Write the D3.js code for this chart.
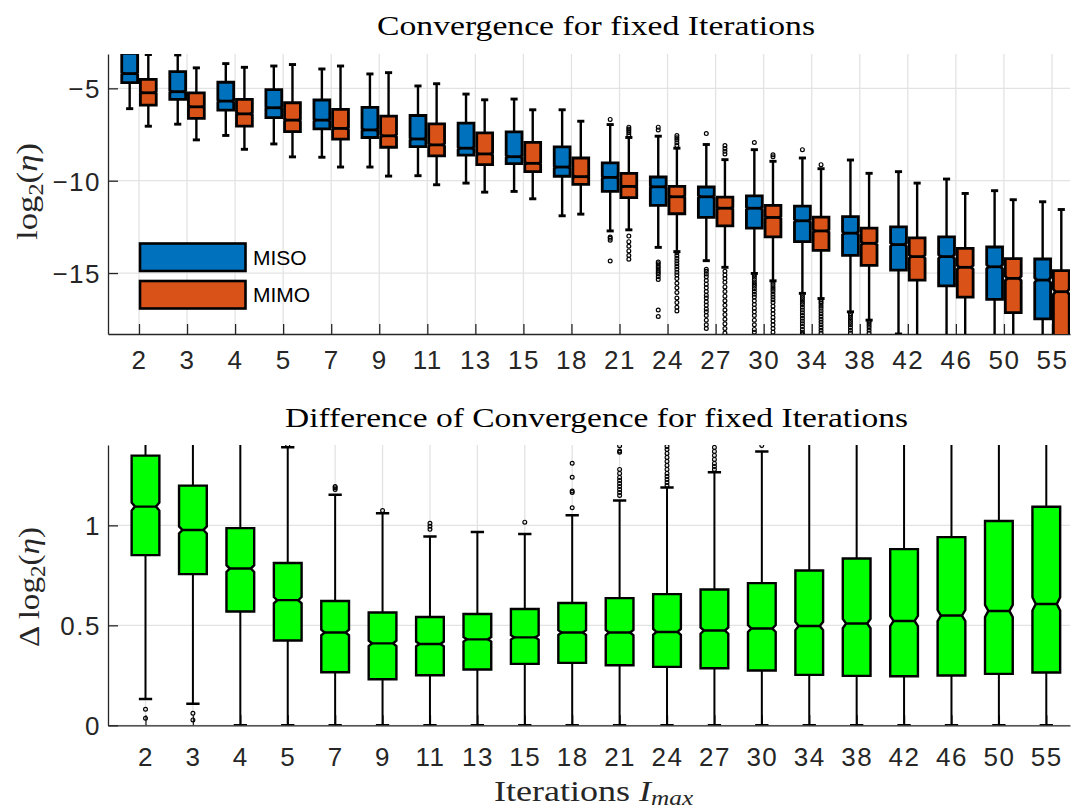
<!DOCTYPE html>
<html><head><meta charset="utf-8">
<script src="https://cdn.jsdelivr.net/npm/d3@7"></script>
<style>body{margin:0;background:#fff}</style>
</head><body><svg id="c" width="1071" height="810"></svg>
<script>
// ---------------- DATA ----------------
const categories = ["2","3","4","5","7","9","11","13","15","18","21","24","27","30","34","38","42","46","50","55"];
const seriesNames = ["MISO","MIMO"];

// top panel: log2(eta)
const misoWhiskerHigh = [-2.50,-3.19,-3.66,-3.79,-3.95,-4.22,-4.87,-5.31,-5.58,-6.16,-6.96,-7.59,-8.04,-8.32,-8.77,-8.88,-9.51,-9.91,-10.54,-11.14];
const misoQ3          = [-3.10,-4.09,-4.67,-5.07,-5.63,-6.03,-6.47,-6.88,-7.36,-8.17,-9.04,-9.80,-10.34,-10.82,-11.38,-11.94,-12.50,-13.04,-13.59,-14.24];
const misoMedian      = [-4.20,-5.18,-5.69,-6.05,-6.72,-7.25,-7.74,-8.24,-8.70,-9.26,-9.82,-10.33,-10.87,-11.49,-12.17,-12.84,-13.46,-14.11,-14.66,-15.38];
const misoQ1          = [-4.69,-5.60,-6.18,-6.58,-7.19,-7.66,-8.15,-8.61,-9.08,-9.76,-10.58,-11.34,-11.99,-12.57,-13.30,-14.04,-14.84,-15.69,-16.43,-17.48];
const misoWhiskerLow  = [-6.10,-6.94,-7.55,-8.01,-8.73,-9.26,-9.73,-10.13,-10.58,-11.90,-12.72,-13.61,-14.33,-15.02,-16.10,-17.10,-18.30,-19.50,-19.50,-19.50];
const misoOutliers = [[],[],[],[],[],[],[],[],[],[],
  [-6.68,-13.05,-13.12,-13.22,-14.35],
  [-7.10,-7.25,-14.40,-14.50,-14.62,-14.72,-14.85,-14.95,-15.05,-15.20,-15.35,-17.00,-17.35],
  [-7.45,-14.80,-14.90,-15.05,-15.20,-15.40,-15.60,-15.80,-16.00,-16.20,-16.35,-16.55,-16.75,-16.95,-17.10,-17.30,-17.55,-17.80,-18.00],
  [-7.93,-15.10,-15.22,-15.35,-15.48,-15.60,-15.72,-15.85,-16.00,-16.15,-16.30,-16.50,-16.70,-16.90,-17.10,-17.30,-17.55,-17.80,-18.05,-18.20],
  [-8.32,-16.20,-16.32,-16.45,-16.58,-16.70,-16.85,-17.00,-17.15,-17.30,-17.45,-17.60,-17.75,-17.90,-18.05,-18.20,-18.30],
  [-17.20,-17.30,-17.42,-17.55,-17.68,-17.80,-17.95,-18.10,-18.25],
  [],[],[],[]];

const mimoWhiskerHigh = [-3.17,-3.89,-3.86,-3.71,-3.79,-4.15,-4.75,-5.62,-6.16,-6.78,-7.66,-8.24,-8.86,-8.95,-9.35,-9.60,-10.13,-10.69,-11.03,-11.56];
const mimoQ3          = [-4.51,-5.25,-5.60,-5.78,-6.14,-6.50,-6.92,-7.41,-7.92,-8.77,-9.60,-10.31,-10.89,-11.34,-11.97,-12.57,-13.10,-13.66,-14.22,-14.87];
const mimoMedian      = [-5.24,-6.00,-6.38,-6.72,-7.17,-7.57,-8.06,-8.55,-9.06,-9.78,-10.31,-10.87,-11.49,-11.99,-12.72,-13.39,-14.11,-14.69,-15.29,-16.01];
const mimoQ1          = [-5.91,-6.63,-7.05,-7.34,-7.75,-8.19,-8.66,-9.13,-9.51,-10.20,-10.92,-11.79,-12.45,-13.04,-13.77,-14.58,-15.38,-16.30,-17.14,-18.60];
const mimoWhiskerLow  = [-7.05,-7.79,-8.30,-8.71,-9.26,-9.75,-10.22,-10.62,-10.98,-11.81,-12.66,-13.84,-14.69,-15.42,-16.38,-17.55,-19.50,-19.50,-19.50,-19.80];
const mimoOutliers = [[],[],[],[],[],[],[],[],[],[],
  [-7.10,-7.20,-7.30,-7.40,-7.52,-13.00,-13.30,-13.55,-13.80,-14.05,-14.25],
  [-7.55,-7.68,-7.80,-7.95,-8.10,-13.90,-14.05,-14.20,-14.35,-14.50,-14.65,-14.80,-14.95,-15.10,-15.30,-15.55,-15.80,-16.05,-16.35,-16.60,-16.85,-17.05],
  [-8.10,-8.25,-8.40,-8.55,-14.90,-15.10,-15.30,-15.50,-15.75,-16.00,-16.25,-16.50,-16.75,-17.00,-17.25,-17.50,-17.75,-18.00,-18.25],
  [-8.60,-8.70,-15.50,-15.62,-15.75,-15.88,-16.00,-16.15,-16.30,-16.45,-16.60,-16.80,-17.00,-17.20,-17.40,-17.60,-17.80,-18.00,-18.20],
  [-9.13,-16.45,-16.55,-16.65,-16.78,-16.90,-17.05,-17.20,-17.35,-17.50,-17.65,-17.80,-17.95,-18.10,-18.25],
  [-17.60,-17.70,-17.82,-17.95,-18.10,-18.25],
  [],[],[],[]];

// bottom panel: difference
const diffWhiskerHigh = [1.55,1.55,1.55,1.391,1.153,1.061,0.944,0.967,0.957,1.051,1.124,1.189,1.266,1.370,1.55,1.55,1.55,1.55,1.55,1.55];
const diffQ3          = [1.349,1.199,0.986,0.812,0.622,0.564,0.542,0.557,0.582,0.612,0.636,0.656,0.679,0.711,0.774,0.834,0.881,0.941,1.022,1.093];
const diffMedian      = [1.094,0.977,0.784,0.626,0.464,0.410,0.407,0.430,0.440,0.464,0.464,0.467,0.474,0.484,0.497,0.509,0.522,0.549,0.572,0.607];
const diffQ1          = [0.851,0.756,0.569,0.424,0.265,0.230,0.250,0.279,0.307,0.312,0.300,0.292,0.285,0.274,0.252,0.247,0.245,0.249,0.257,0.264];
const diffWhiskerLow  = [0.132,0.108,0,0,0,0,0,0,0,0,0,0,0,0,0,0,0,0,0,0];
const diffOutliers = [[0.080,0.035],[0.060,0.027],[],[1.400],[1.180,1.188,1.195],[1.074],[0.980,0.995,1.010],[],[1.016],
  [1.088,1.165,1.172,1.241,1.311],
  [1.150,1.165,1.180,1.195,1.210,1.225,1.240,1.260,1.280,1.366,1.372,1.398],
  [1.200,1.215,1.230,1.245,1.260,1.280,1.300,1.320,1.340,1.360,1.380,1.395],
  [1.280,1.295,1.310,1.330,1.350,1.370,1.390],
  [1.400],[],[],[],[],[],[]];

const topYTicks = [-15,-10,-5];
const bottomYTicks = [0,0.5,1];
const titles = ["Convergence for fixed Iterations","Difference of Convergence for fixed Iterations"];

// ---------------- STYLE ----------------
const colors = {MISO:"#0072BD", MIMO:"#D95319", diff:"#00FF00"};
const gridColor = "#e3e3e3", axisColor = "#262626";
const tickFont = "'Liberation Sans', Arial, Helvetica, sans-serif";
const serif = "'Liberation Serif', 'Times New Roman', serif";
const notchFrac = 0.04;

const svg = d3.select("#c");
const idx = d3.range(categories.length);

function panel(opts){
  const {x, y, yTicks, xPad, clipId} = opts;
  const [x0,x1] = x.range(), [yb,yt] = y.range();
  const g = svg.append("g");
  svg.append("defs").append("clipPath").attr("id",clipId)
    .append("rect").attr("x",x0).attr("y",yt).attr("width",x1-x0).attr("height",yb-yt);
  g.append("g").selectAll("line").data(idx).join("line")
    .attr("x1",d=>x(d)).attr("x2",d=>x(d)).attr("y1",yt).attr("y2",yb)
    .attr("stroke",gridColor).attr("stroke-width",1.3);
  g.append("g").selectAll("line").data(yTicks).join("line")
    .attr("x1",x0).attr("x2",x1).attr("y1",d=>y(d)).attr("y2",d=>y(d))
    .attr("stroke",gridColor).attr("stroke-width",1.3);
  const ax = g.append("g").attr("transform",`translate(0,${yb})`)
    .call(d3.axisBottom(x).tickValues(idx).tickFormat(i=>categories[i]).tickSize(-10).tickSizeOuter(0).tickPadding(xPad));
  const ay = g.append("g").attr("transform",`translate(${x0},0)`)
    .call(d3.axisLeft(y).tickValues(yTicks).tickFormat(d3.format("")).tickSize(-10).tickSizeOuter(0).tickPadding(7));
  [ax,ay].forEach(a=>{
    a.select(".domain").attr("stroke",axisColor).attr("stroke-width",1.3);
    a.selectAll(".tick line").attr("stroke",axisColor).attr("stroke-width",1.3);
    a.selectAll("text").attr("font-family",tickFont).attr("font-size",26).attr("fill",axisColor).attr("letter-spacing",1.5);
  });
  ay.selectAll("text").attr("dy","0.36em");
  return svg.append("g").attr("clip-path",`url(#${clipId})`);
}

function drawBoxes(body, y, cx, w, data, fill, lw, capFrac, wlw){
  const gb = body.append("g");
  const inset = w*0.12;
  data.forEach(d=>{
    const c = cx(d.i), l = c-w/2, r = c+w/2;
    const cap = w*capFrac/2;
    gb.append("line").attr("x1",c).attr("x2",c).attr("y1",y(d.q3)).attr("y2",y(d.wh))
      .attr("stroke","#000").attr("stroke-width",wlw);
    gb.append("line").attr("x1",c).attr("x2",c).attr("y1",y(d.q1)).attr("y2",y(d.wl))
      .attr("stroke","#000").attr("stroke-width",wlw);
    gb.append("line").attr("x1",c-cap).attr("x2",c+cap).attr("y1",y(d.wh)).attr("y2",y(d.wh))
      .attr("stroke","#000").attr("stroke-width",wlw+0.5);
    gb.append("line").attr("x1",c-cap).attr("x2",c+cap).attr("y1",y(d.wl)).attr("y2",y(d.wl))
      .attr("stroke","#000").attr("stroke-width",wlw+0.5);
    gb.append("g").selectAll("circle").data(d.out).join("circle")
      .attr("cx",c).attr("cy",v=>y(v)).attr("r",1.9)
      .attr("fill","none").attr("stroke","#000").attr("stroke-width",1.2);
    const nc = notchFrac*(d.q3-d.q1);
    const pts = [[l,y(d.q3)],[r,y(d.q3)],[r,y(d.med+nc)],[r-inset,y(d.med)],[r,y(d.med-nc)],[r,y(d.q1)],
                 [l,y(d.q1)],[l,y(d.med-nc)],[l+inset,y(d.med)],[l,y(d.med+nc)]];
    gb.append("path").attr("d",d3.line()(pts)+"Z").attr("fill",fill)
      .attr("stroke","#000").attr("stroke-width",lw).attr("stroke-linejoin","miter");
    gb.append("line").attr("x1",l+inset).attr("x2",r-inset).attr("y1",y(d.med)).attr("y2",y(d.med))
      .attr("stroke","#000").attr("stroke-width",lw);
  });
}

// ---------- TOP PANEL ----------
const xTop = d3.scaleLinear().domain([-0.645,19.375]).range([108,1070]);
const yTop = d3.scaleLinear().domain([-18.30,-3.14]).range([334,54]);
const bodyTop = panel({x:xTop, y:yTop, yTicks:topYTicks, xPad:17, clipId:"clipTop"});
const stepTop = xTop(1)-xTop(0);
const topSeries = [
  {name:"MISO", wh:misoWhiskerHigh, q3:misoQ3, med:misoMedian, q1:misoQ1, wl:misoWhiskerLow, out:misoOutliers, off:-0.194},
  {name:"MIMO", wh:mimoWhiskerHigh, q3:mimoQ3, med:mimoMedian, q1:mimoQ1, wl:mimoWhiskerLow, out:mimoOutliers, off:0.194}
];
topSeries.forEach(s=>{
  const data = idx.map(i=>({i, wh:s.wh[i], q3:s.q3[i], med:s.med[i], q1:s.q1[i], wl:s.wl[i], out:s.out[i]}));
  drawBoxes(bodyTop, yTop, i=>xTop(i)+s.off*stepTop, stepTop*0.33, data, colors[s.name], 2.8, 0.45, 2.4);
});

// legend
const leg = svg.append("g");
seriesNames.forEach((n,k)=>{
  const y0 = 243.5 + k*37.5;
  leg.append("rect").attr("x",140).attr("y",y0).attr("width",105.5).attr("height",27.5)
    .attr("fill",colors[n]).attr("stroke","#000").attr("stroke-width",2.6);
  leg.append("text").attr("x",253).attr("y",y0+21).text(n)
    .attr("font-family",tickFont).attr("font-size",21).attr("fill","#000");
});

// ---------- BOTTOM PANEL ----------
const xBot = d3.scaleLinear().domain([-0.791,19.5]).range([108,1070]);
const yBot = d3.scaleLinear().domain([0,1.402]).range([725.3,445]);
const bodyBot = panel({x:xBot, y:yBot, yTicks:bottomYTicks, xPad:22, clipId:"clipBot"});
const stepBot = xBot(1)-xBot(0);
const diffData = idx.map(i=>({i, wh:diffWhiskerHigh[i], q3:diffQ3[i], med:diffMedian[i], q1:diffQ1[i], wl:diffWhiskerLow[i], out:diffOutliers[i]}));
drawBoxes(bodyBot, yBot, i=>xBot(i), stepBot*0.585, diffData, colors.diff, 2.4, 0.48, 2.0);

// ---------- TEXT ----------
function fit(t, bx, by, target, rot){
  const bb = t.node().getBBox();
  const s = target/bb.width;
  t.attr("transform",`translate(${bx},${by})${rot?" rotate(-90)":""} scale(${s},1) translate(${-(bb.x+bb.width/2)},0)`);
}
svg.append("text").attr("x",596).attr("y",35).attr("text-anchor","middle")
  .attr("font-family",serif).attr("font-size",28).attr("textLength",438).attr("lengthAdjust","spacingAndGlyphs")
  .text(titles[0]);
svg.append("text").attr("x",596.5).attr("y",427).attr("text-anchor","middle")
  .attr("font-family",serif).attr("font-size",28).attr("textLength",623).attr("lengthAdjust","spacingAndGlyphs")
  .text(titles[1]);

function yLabel(prefix){
  const t = svg.append("text").attr("font-family",serif).attr("font-size",30).attr("fill","#262626");
  t.append("tspan").text(prefix+"log");
  t.append("tspan").attr("font-size",21).attr("dy",6).text("2");
  t.append("tspan").attr("dy",-6).text("(");
  t.append("tspan").attr("font-style","italic").text("η");
  t.append("tspan").text(")");
  return t;
}
fit(yLabel(""), 37, 191.5, 97, true);
fit(yLabel("Δ "), 39, 587, 120, true);

const xl = svg.append("text").attr("font-family",serif).attr("font-size",30).attr("fill","#262626");
xl.append("tspan").text("Iterations ");
xl.append("tspan").attr("font-style","italic").text("I");
xl.append("tspan").attr("font-style","italic").attr("font-size",21).attr("dy",4).text("max");
fit(xl, 594, 801, 200, false);
</script></body></html>
